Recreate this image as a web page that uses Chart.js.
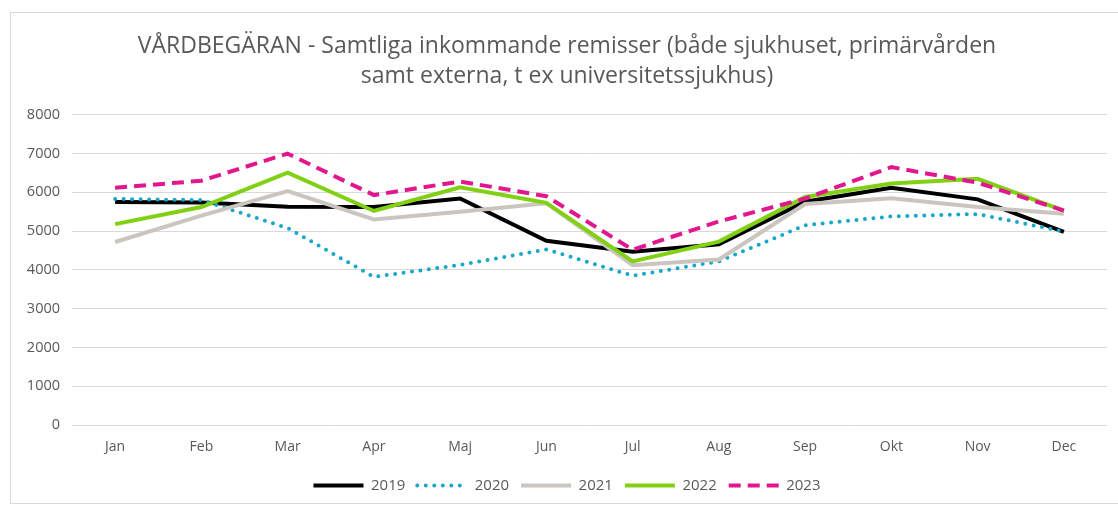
<!DOCTYPE html>
<html>
<head>
<meta charset="utf-8">
<script src="https://cdn.jsdelivr.net/npm/chart.js@4"></script>
<style>
  html, body { margin: 0; padding: 0; background: #fff; overflow: hidden; }
  #wrap { position: relative; width: 1118px; height: 505px; overflow: hidden; }
  #frame {
    position: absolute; left: 10px; top: 12px; width: 1200px; height: 490px;
    border: 1px solid #d9d9d9;
  }
  #chart { position: absolute; left: 0; top: 0; }
</style>
</head>
<body>
<div id="wrap">
  <div id="frame"></div>
  <canvas id="chart" width="1118" height="505"></canvas>
</div>
<script>
// months on the x axis
const months = ['Jan', 'Feb', 'Mar', 'Apr', 'Maj', 'Jun', 'Jul', 'Aug', 'Sep', 'Okt', 'Nov', 'Dec'];

// incoming referrals per month and year
const v2019 = [5750, 5740, 5630, 5620, 5840, 4750, 4470, 4660, 5760, 6120, 5820, 4980];
const v2020 = [5830, 5800, 5080, 3820, 4130, 4530, 3850, 4220, 5150, 5380, 5440, 4990];
const v2021 = [4720, 5400, 6030, 5300, 5500, 5720, 4120, 4270, 5700, 5850, 5620, 5450];
const v2022 = [5180, 5620, 6510, 5520, 6130, 5730, 4220, 4730, 5880, 6230, 6350, 5530];
const v2023 = [6120, 6300, 7000, 5930, 6280, 5900, 4520, 5250, 5840, 6650, 6250, 5530];

const titleLines = [
    'VÅRDBEGÄRAN - Samtliga inkommande remisser (både sjukhuset, primärvården',
    'samt externa, t ex universitetssjukhus)'
];

const txtColor = '#595959';
const gridColor = '#d9d9d9';
const fontFamily = '"Open Sans", Lato, sans-serif';

function series(label, data, color, order, extra) {
    return Object.assign({
        label: label,
        data: data,
        borderColor: color,
        backgroundColor: color,
        borderWidth: 4,
        pointRadius: 0,
        pointHoverRadius: 0,
        tension: 0,
        fill: false,
        order: order
    }, extra || {});
}

// legend samples take the dash/cap of the line itself, not of the points
function legendLabels(chart) {
    const items = Chart.defaults.plugins.legend.labels.generateLabels(chart);
    items.forEach(function(item) {
        const ds = chart.data.datasets[item.datasetIndex];
        item.lineDash = ds.borderDash || [];
        item.lineCap = ds.borderCapStyle || 'butt';
        item.lineWidth = ds.borderWidth;
        item.strokeStyle = ds.borderColor;
        item.fillStyle = ds.borderColor;
    });
    return items;
}

const ctx = document.getElementById('chart');

new Chart(ctx, {
    type: 'line',
    data: {
        labels: months,
        datasets: [
            series('2019', v2019, '#000000', 5),
            series('2020', v2020, '#17a8c8', 4, { borderDash: [0, 8.5], borderCapStyle: 'round' }),
            series('2021', v2021, '#cbc5bf', 3),
            series('2022', v2022, '#82d014', 2),
            series('2023', v2023, '#e3178d', 1, { borderDash: [12, 7] })
        ]
    },
    options: {
        responsive: false,
        animation: false,
        layout: {
            padding: { left: 27, right: 11, top: 0, bottom: 2 }
        },
        plugins: {
            title: {
                display: true,
                text: titleLines,
                color: txtColor,
                font: { family: fontFamily, size: 23, weight: 'normal', lineHeight: 1.3 },
                padding: { top: 32, bottom: 23 }
            },
            legend: {
                position: 'bottom',
                labels: {
                    usePointStyle: true,
                    pointStyle: 'line',
                    pointStyleWidth: 50,
                    boxHeight: 15,
                    color: txtColor,
                    padding: 12,
                    font: { family: fontFamily, size: 15 },
                    generateLabels: legendLabels,
                    sort: (a, b) => a.datasetIndex - b.datasetIndex
                }
            },
            tooltip: { enabled: false }
        },
        scales: {
            x: {
                offset: true,
                grid: { display: false, drawTicks: false },
                border: { display: false },
                ticks: {
                    color: txtColor,
                    padding: 14,
                    font: { family: fontFamily, size: 14 }
                },
                afterFit: function(scale) { scale.height = 41; }
            },
            y: {
                min: 0,
                max: 8000,
                grid: { color: gridColor, lineWidth: 1, drawTicks: false },
                border: { display: false },
                ticks: {
                    stepSize: 1000,
                    color: txtColor,
                    padding: 12,
                    font: { family: fontFamily, size: 14.5 },
                    callback: function(value) { return String(value); }
                },
                afterFit: function(scale) { scale.width = 45; }
            }
        }
    }
});
</script>
</body>
</html>
